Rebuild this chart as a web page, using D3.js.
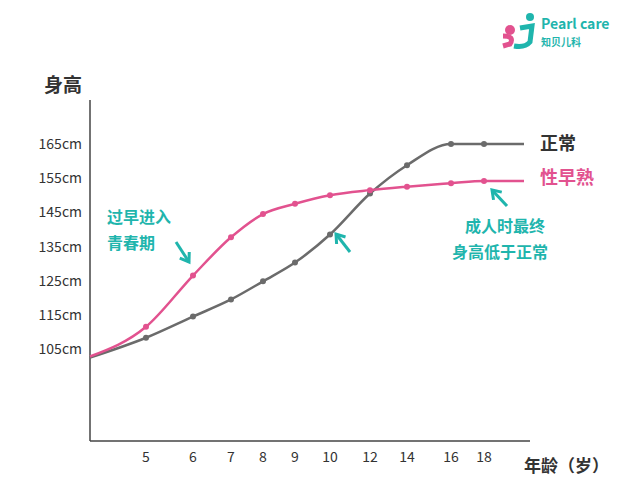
<!DOCTYPE html><html><head><meta charset="utf-8"><script src="https://cdn.jsdelivr.net/npm/d3@7"></script>
<style>body{margin:0;background:#fff}text{font-family:"Noto Sans CJK SC","Noto Sans",sans-serif}</style></head><body><svg id="c" width="640" height="485"></svg><script>
const ages=[4,5,6,7,8,9,10,12,14,16,18,20];
const tickAges=[5,6,7,8,9,10,12,14,16,18];
const normal=[102.5,108.3,114.5,119.5,124.8,130.3,138.5,150.5,158.8,165,165,165];
const early=[102.8,111.5,126.5,137.7,144.5,147.5,150,151.5,152.5,153.5,154.2,154.2];
const yTicks=[105,115,125,135,145,155,165];
const svg=d3.select("#c");
const x=d3.scaleLinear().domain([4,5,6,7,8,9,10,12,14,16,18,20]).range([90,146,193,231,263,295,330,370,407,451,484,524]);
const y=d3.scaleLinear().domain([105,165]).range([349,144]);
const gray="#6b6b6b",pink="#e2528f",teal="#1fb5ad";
svg.append("line").attr("x1",90).attr("x2",90).attr("y1",100).attr("y2",441).attr("stroke","#444").attr("stroke-width",1.5);
svg.append("line").attr("x1",90).attr("x2",530).attr("y1",441).attr("y2",441).attr("stroke","#444").attr("stroke-width",1.5);
svg.selectAll(".yt").data(yTicks).enter().append("text").attr("x",82).attr("y",d=>y(d)+5).attr("text-anchor","end").attr("font-size",14).attr("fill","#333").text(d=>d+"cm");
svg.selectAll(".xt").data(tickAges).enter().append("text").attr("x",d=>x(d)).attr("y",462).attr("text-anchor","middle").attr("font-size",14).attr("fill","#333").text(d=>d);
svg.append("text").attr("x",44).attr("y",92).attr("font-size",19).attr("font-weight","bold").attr("fill","#333").text("身高");
svg.append("text").attr("x",524).attr("y",472).attr("font-size",17).attr("font-weight","bold").attr("fill","#333").text("年龄（岁）");
const line=d3.line().x((d,i)=>x(ages[i])).y(d=>y(d)).curve(d3.curveMonotoneX);
svg.append("path").attr("d",line(normal)).attr("fill","none").attr("stroke",gray).attr("stroke-width",2.5);
svg.append("path").attr("d",line(early)).attr("fill","none").attr("stroke",pink).attr("stroke-width",2.5);
const pts=ages.slice(1,11);
svg.selectAll(".pn").data(pts).enter().append("circle").attr("cx",d=>x(d)).attr("cy",(d,i)=>y(normal[i+1])).attr("r",3).attr("fill",gray);
svg.selectAll(".pe").data(pts).enter().append("circle").attr("cx",d=>x(d)).attr("cy",(d,i)=>y(early[i+1])).attr("r",3).attr("fill",pink);
svg.append("text").attr("x",540).attr("y",150).attr("font-size",18).attr("font-weight","bold").attr("fill","#333").text("正常");
svg.append("text").attr("x",540).attr("y",184).attr("font-size",18).attr("font-weight","bold").attr("fill",pink).text("性早熟");
const ann=[["过早进入",107,223],["青春期",107,249],["成人时最终",465,232],["身高低于正常",452,258]];
svg.selectAll(".an").data(ann).enter().append("text").attr("x",d=>d[1]).attr("y",d=>d[2]).attr("font-size",16).attr("font-weight","bold").attr("fill",teal).text(d=>d[0]);
function arrow(x1,y1,x2,y2){svg.append("line").attr("x1",x1).attr("y1",y1).attr("x2",x2).attr("y2",y2).attr("stroke",teal).attr("stroke-width",3);
 const a=Math.atan2(y2-y1,x2-x1),L=10;
 svg.append("path").attr("d",`M${x2-L*Math.cos(a-0.6)},${y2-L*Math.sin(a-0.6)}L${x2},${y2}L${x2-L*Math.cos(a+0.6)},${y2-L*Math.sin(a+0.6)}`).attr("fill","none").attr("stroke",teal).attr("stroke-width",3);}
arrow(176,242,189,262);arrow(350,252,336,234);arrow(507,206,492,190);
svg.append("circle").attr("cx",510).attr("cy",30).attr("r",5).attr("fill",pink);
svg.append("path").attr("d","M503,36 Q515,36 510,44 L503,46").attr("fill","none").attr("stroke",pink).attr("stroke-width",5);
svg.append("circle").attr("cx",530).attr("cy",17).attr("r",4).attr("fill",teal);
svg.append("path").attr("d","M520,28 L532,26 L530,42 Q525,48 514,46").attr("fill","none").attr("stroke",teal).attr("stroke-width",5);
svg.append("text").attr("x",541).attr("y",29).attr("font-size",14).attr("font-weight","bold").attr("fill",teal).text("Pearl care");
svg.append("text").attr("x",541).attr("y",46).attr("font-size",10).attr("font-weight","bold").attr("fill",teal).text("知贝儿科");
</script></body></html>
